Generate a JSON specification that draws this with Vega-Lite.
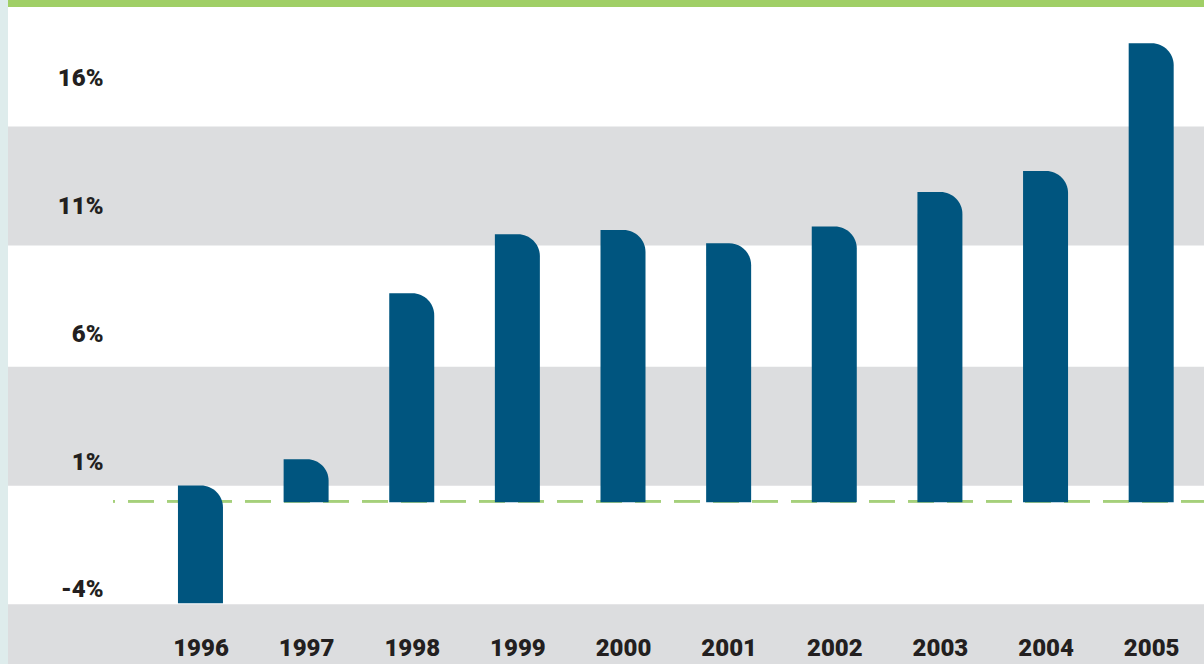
{
  "$schema": "https://vega.github.io/schema/vega-lite/v6.json",
  "width": 1196,
  "height": 664,
  "autosize": {"type": "none"},
  "padding": {"left": 8, "top": 0, "right": 0, "bottom": 0},
  "background": "#deecec",
  "config": {
    "view": {"stroke": null, "fill": "#ffffff"},
    "axis": {
      "labelFont": "Roboto",
      "labelFontWeight": 900,
      "labelColor": "#231f20",
      "labelFontSize": 24,
      "domain": false,
      "ticks": false,
      "tickSize": 0,
      "grid": false,
      "title": null,
      "labelOverlap": false,
      "labelFlush": false,
      "labelPadding": 0
    }
  },
  "datasets": {
    "returns": [
      {"year": 1996, "value": -4.52, "base": 0.09},
      {"year": 1997, "value": 1.11, "base": -0.57},
      {"year": 1998, "value": 7.6, "base": -0.57},
      {"year": 1999, "value": 9.91, "base": -0.57},
      {"year": 2000, "value": 10.08, "base": -0.57},
      {"year": 2001, "value": 9.56, "base": -0.57},
      {"year": 2002, "value": 10.21, "base": -0.57},
      {"year": 2003, "value": 11.56, "base": -0.57},
      {"year": 2004, "value": 12.38, "base": -0.57},
      {"year": 2005, "value": 17.38, "base": -0.57}
    ],
    "bands": [
      {"top": 14.12, "bottom": 9.47},
      {"top": 4.73, "bottom": 0.08},
      {"top": -4.56, "bottom": -6.89}
    ]
  },
  "layer": [
    {
      "data": {"name": "bands"},
      "mark": {"type": "rect", "color": "#dcdddf"},
      "encoding": {
        "y": {"field": "top", "type": "quantitative", "scale": {"domain": [-6.894, 19.07], "nice": false, "zero": false, "padding": 0}},
        "y2": {"field": "bottom"}
      }
    },
    {
      "data": {"name": "bands"},
      "mark": {"type": "rect", "color": "#a0cf66"},
      "encoding": {
        "y": {"datum": 19.07, "type": "quantitative"},
        "y2": {"datum": 18.8}
      }
    },
    {
      "data": {"name": "bands"},
      "mark": {"type": "rule", "color": "#a5d07b", "strokeWidth": 2.6, "strokeDash": [26, 13], "strokeDashOffset": 24},
      "encoding": {
        "x": {"datum": 1995.172, "type": "quantitative", "scale": {"domain": [1994.178, 2005.5], "nice": false, "zero": false, "padding": 0}},
        "x2": {"datum": 2005.5},
        "y": {"datum": -0.53, "type": "quantitative"}
      }
    },
    {
      "data": {"name": "returns"},
      "mark": {"type": "bar", "color": "#00557f", "width": 45, "cornerRadiusTopRight": 22},
      "encoding": {
        "x": {
          "field": "year",
          "type": "quantitative",
          "axis": {"values": [1996, 1997, 1998, 1999, 2000, 2001, 2002, 2003, 2004, 2005], "format": "d", "offset": -9, "labelBaseline": "alphabetic", "zindex": 2}
        },
        "y": {
          "field": "value",
          "type": "quantitative",
          "axis": {"values": [-4, 1, 6, 11, 16], "labelExpr": "datum.value + '%'", "offset": -95, "zindex": 2}
        },
        "y2": {"field": "base"}
      }
    }
  ]
}
